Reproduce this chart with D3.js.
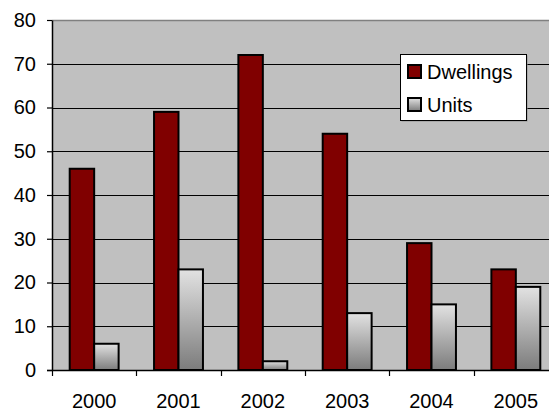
<!DOCTYPE html>
<html>
<head>
<meta charset="utf-8">
<script src="https://cdn.jsdelivr.net/npm/d3@7"></script>
<style>
  body { margin: 0; background: #fff; }
  text { font-family: "Liberation Sans", Arial, sans-serif; fill: #000; }
</style>
</head>
<body>
<script>
// chart data
var years = ["2000", "2001", "2002", "2003", "2004", "2005"];
var dwellings = [46, 59, 72, 54, 29, 23];
var units = [6, 23, 2, 13, 15, 19];
var yTicks = [0, 10, 20, 30, 40, 50, 60, 70, 80];

var width = 549, height = 412;
var plot = {left: 52, top: 20, bottom: 370, right: 558};

var svg = d3.select("body").append("svg")
    .attr("width", width)
    .attr("height", height);

var defs = svg.append("defs");
var grad = defs.append("linearGradient")
    .attr("id", "unitsGrad")
    .attr("x1", 0).attr("y1", 0).attr("x2", 0).attr("y2", 1);
grad.append("stop").attr("offset", "0%").attr("stop-color", "#e2e2e2");
grad.append("stop").attr("offset", "100%").attr("stop-color", "#7c7c7c");

var x = d3.scaleBand()
    .domain(years)
    .range([plot.left, plot.right])
    .paddingInner(0)
    .paddingOuter(0);

var y = d3.scaleLinear()
    .domain([0, 80])
    .range([plot.bottom, plot.top]);

// plot background
svg.append("rect")
    .attr("x", plot.left)
    .attr("y", plot.top)
    .attr("width", plot.right - plot.left)
    .attr("height", plot.bottom - plot.top)
    .attr("fill", "#c0c0c0");

// gridlines
svg.append("g")
    .selectAll("line")
    .data(yTicks.slice(1, -1))
    .join("line")
    .attr("x1", plot.left)
    .attr("x2", plot.right)
    .attr("y1", function(d) { return Math.round(y(d)) + 0.5; })
    .attr("y2", function(d) { return Math.round(y(d)) + 0.5; })
    .attr("stroke", "#000")
    .attr("stroke-width", 1);

// top border of plot area
svg.append("line")
    .attr("x1", plot.left).attr("x2", plot.right)
    .attr("y1", y(80) + 0.5).attr("y2", y(80) + 0.5)
    .attr("stroke", "#808080")
    .attr("stroke-width", 1.5);

// bars
var bw = x.bandwidth();
var barW = bw * 0.29;
var off = bw * 0.21;

svg.append("g")
    .selectAll("rect")
    .data(years)
    .join("rect")
    .attr("x", function(d) { return x(d) + off; })
    .attr("y", function(d, i) { return y(dwellings[i]); })
    .attr("width", barW)
    .attr("height", function(d, i) { return y(0) - y(dwellings[i]); })
    .attr("fill", "#800000")
    .attr("stroke", "#000")
    .attr("stroke-width", 2);

svg.append("g")
    .selectAll("rect")
    .data(years)
    .join("rect")
    .attr("x", function(d) { return x(d) + off + barW; })
    .attr("y", function(d, i) { return y(units[i]); })
    .attr("width", barW)
    .attr("height", function(d, i) { return y(0) - y(units[i]); })
    .attr("fill", "url(#unitsGrad)")
    .attr("stroke", "#000")
    .attr("stroke-width", 2);

// y axis
var yAxis = svg.append("g")
    .attr("transform", "translate(" + plot.left + ",0)")
    .call(d3.axisLeft(y).tickValues(yTicks).tickSize(5).tickPadding(11).tickSizeOuter(0));
yAxis.select(".domain").attr("stroke", "#000").attr("stroke-width", 1.5);
yAxis.selectAll("line").attr("stroke", "#000").attr("stroke-width", 1.2);
yAxis.selectAll("text")
    .style("font-size", "20px")
    .style("font-family", "Liberation Sans, Arial, sans-serif")
    .attr("fill", "#000");

// x axis
var xAxis = svg.append("g")
    .attr("transform", "translate(0," + plot.bottom + ")");
xAxis.append("line")
    .attr("x1", plot.left - 5).attr("x2", plot.right)
    .attr("y1", 0.5).attr("y2", 0.5)
    .attr("stroke", "#000").attr("stroke-width", 1.5);
xAxis.selectAll("line.tick")
    .data(years.concat(["end"]))
    .join("line")
    .attr("class", "tick")
    .attr("x1", function(d, i) { return Math.round(plot.left + i * bw) + 0.5; })
    .attr("x2", function(d, i) { return Math.round(plot.left + i * bw) + 0.5; })
    .attr("y1", 0).attr("y2", 6)
    .attr("stroke", "#000").attr("stroke-width", 1.2);
xAxis.selectAll("text")
    .data(years)
    .join("text")
    .attr("x", function(d) { return x(d) + bw / 2; })
    .attr("y", 38)
    .attr("text-anchor", "middle")
    .style("font-size", "20px")
    .text(function(d) { return d; });

// legend
var legend = svg.append("g").attr("transform", "translate(400,54)");
legend.append("rect")
    .attr("x", 1.5).attr("y", 1.5)
    .attr("width", 126).attr("height", 66)
    .attr("fill", "#909090");
legend.append("rect")
    .attr("x", 0.5).attr("y", 0.5)
    .attr("width", 126).attr("height", 66)
    .attr("fill", "#fff")
    .attr("stroke", "#000")
    .attr("stroke-width", 1);

var legItems = [
    {name: "Dwellings", fill: "#800000"},
    {name: "Units", fill: "url(#unitsGrad)"}
];
var li = legend.selectAll("g.item")
    .data(legItems)
    .join("g")
    .attr("class", "item")
    .attr("transform", function(d, i) { return "translate(8," + (11 + i * 33) + ")"; });
li.append("rect")
    .attr("width", 13).attr("height", 13)
    .attr("fill", function(d) { return d.fill; })
    .attr("stroke", "#000")
    .attr("stroke-width", 2);
li.append("text")
    .attr("x", 19)
    .attr("y", 13.5)
    .style("font-size", "20px")
    .text(function(d) { return d.name; });
</script>
</body>
</html>
